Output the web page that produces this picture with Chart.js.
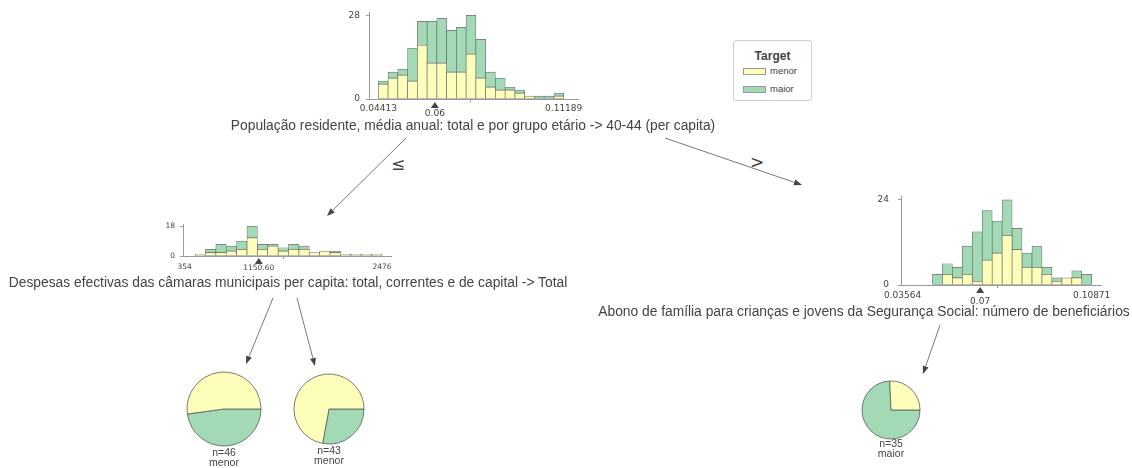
<!DOCTYPE html>
<html>
<head>
  <meta charset="utf-8">
  <title>Árvore de decisão</title>
  <script src="https://cdn.jsdelivr.net/npm/chart.js"></script>
  <style>
    body { margin: 0; width: 1132px; height: 468px; overflow: hidden; position: relative; background: #fff;
           font-family: "Liberation Sans", Arial, sans-serif; color: #444443; }
    canvas { position: absolute; }
    .feat { position: absolute; white-space: nowrap; font-size: 13.8px; line-height: 16px; transform: translateX(-50%); }
    .leaf { position: absolute; white-space: nowrap; font-size: 10.5px; line-height: 11px; transform: translateX(-50%); }
    .edge { position: absolute; font-family: "DejaVu Sans", sans-serif; font-size: 17px; line-height: 18px; transform: translate(-50%, -50%); }
    #legend { position: absolute; left: 733px; top: 40px; width: 77px; height: 59px; border: 1px solid #cfcfcf; border-radius: 3px; }
    #legend .title { position: absolute; left: 0; width: 77px; top: 8px; text-align: center; font-weight: bold; font-size: 12px; line-height: 14px; }
    #legend .sw { position: absolute; left: 9px; width: 23px; height: 7px; border: 1px solid #9a9a9a; box-sizing: border-box; }
    #legend .lbl { position: absolute; left: 36px; font-size: 9.5px; line-height: 12px; }
    #edges { position: absolute; left: 0; top: 0; }
  </style>
</head>
<body>
  <canvas id="rootHist" width="264" height="120" style="left:334px;top:1px"></canvas>
  <canvas id="leftHist" width="258" height="62" style="left:153px;top:214px"></canvas>
  <canvas id="rightHist" width="255" height="125" style="left:871px;top:182px"></canvas>

  <canvas id="leafA" width="76" height="76" style="left:186px;top:371px"></canvas>
  <canvas id="leafB" width="72" height="72" style="left:293px;top:373px"></canvas>
  <canvas id="leafC" width="60" height="60" style="left:861px;top:380px"></canvas>

  <div class="feat" id="rootLabel" style="left:473px;top:118px"></div>
  <div class="feat" id="leftLabel" style="left:288px;top:275px"></div>
  <div class="feat" id="rightLabel" style="left:864px;top:304px"></div>

  <div class="edge" id="edgeLe" style="left:398px;top:164px"></div>
  <div class="edge" id="edgeGt" style="left:757px;top:162px"></div>

  <div class="leaf" id="leafA_n" style="left:224px;top:447px"></div>
  <div class="leaf" id="leafA_c" style="left:224px;top:457px"></div>
  <div class="leaf" id="leafB_n" style="left:329px;top:445px"></div>
  <div class="leaf" id="leafB_c" style="left:329px;top:455px"></div>
  <div class="leaf" id="leafC_n" style="left:891px;top:438px"></div>
  <div class="leaf" id="leafC_c" style="left:891px;top:448px"></div>

  <div id="legend"></div>
  <svg id="edges" width="1132" height="468"></svg>

  <script>
    var classNames = ['menor', 'maior'];
    var classColors = ['#FEFEBB', '#a1dab4'];
    var edgeLabels = ['≤', '>'];

    // raiz: população residente 40-44 (per capita)
    var rootFeature = 'População residente, média anual: total e por grupo etário -> 40-44 (per capita)';
    var rootRange = [0.04413, 0.11189];
    var rootSplit = 0.0648;
    var rootSplitText = '0.06';
    var rootYTicks = [0, 28];
    var rootMenor = [5, 7, 8, 6, 18, 12, 12, 9, 9, 15, 7, 4, 3, 3, 2, 1, 0, 0, 1];
    var rootMaior = [1, 2, 2, 11, 8, 14, 15, 14, 15, 13, 13, 5, 4, 1, 1, 0, 1, 1, 1];

    // ramo <= : despesas das câmaras
    var leftFeature = 'Despesas efectivas das câmaras municipais per capita: total, correntes e de capital -> Total';
    var leftRange = [354, 2476];
    var leftSplit = 1150.60;
    var leftSplitText = '1150.60';
    var leftYTicks = [0, 18];
    var leftMenor = [0, 1, 2, 2, 3, 4, 11, 4, 6, 3, 4, 4, 2, 3, 2, 1, 1, 1, 1];
    var leftMaior = [0, 0, 2, 5, 3, 5, 7, 3, 1, 2, 3, 2, 0, 0, 1, 0, 0, 0, 0];

    // ramo > : abono de família
    var rightFeature = 'Abono de família para crianças e jovens da Segurança Social: número de beneficiários';
    var rightRange = [0.03564, 0.10871];
    var rightSplit = 0.0656;
    var rightSplitText = '0.07';
    var rightYTicks = [0, 24];
    var rightMenor = [0, 0, 0, 0, 3, 2, 3, 1, 7, 9, 14, 10, 5, 5, 3, 1, 2, 2, 0];
    var rightMaior = [0, 0, 0, 3, 3, 3, 8, 14, 14, 9, 10, 6, 4, 6, 2, 1, 0, 2, 3];

    // folhas, contagens [menor, maior]
    var leafIds = ['leafA', 'leafB', 'leafC'];
    var leafCounts = [[24, 22], [31, 12], [9, 26]];

    var ink = '#444443';
    var axisColor = '#9a9a9a';
    Chart.defaults.font.family = '"DejaVu Sans", sans-serif';
    Chart.defaults.color = ink;

    // triangulo e valor do corte por baixo do eixo x
    var splitMarker = {
      id: 'splitMarker',
      afterDraw: function (chart, args, opts) {
        var ctx = chart.ctx;
        var x = chart.scales.x.getPixelForValue(opts.value);
        var y = chart.chartArea.bottom;
        ctx.save();
        ctx.fillStyle = ink;
        ctx.beginPath();
        ctx.moveTo(x, y + opts.gap);
        ctx.lineTo(x - 4, y + opts.gap + 6);
        ctx.lineTo(x + 4, y + opts.gap + 6);
        ctx.closePath();
        ctx.fill();
        ctx.font = opts.size + 'px "DejaVu Sans"';
        ctx.textAlign = 'center';
        ctx.textBaseline = 'top';
        ctx.fillText(opts.text, x, y + opts.textOffset);
        ctx.restore();
      }
    };

    function drawHistogram(id, range, menor, maior, yTicks, split, splitText, lay) {
      var step = (range[1] - range[0]) / menor.length;
      function points(counts) {
        return counts.map(function (c, i) { return { x: range[0] + (i + 0.5) * step, y: c }; });
      }
      var sets = [menor, maior].map(function (counts, k) {
        return {
          label: classNames[k],
          data: points(counts),
          stack: 'h',
          backgroundColor: classColors[k],
          borderColor: '#6f6f6f',
          borderWidth: 0.7,
          borderSkipped: false,
          barPercentage: 1,
          categoryPercentage: 1
        };
      });
      var tickFont = { size: lay.font };
      return new Chart(document.getElementById(id), {
        type: 'bar',
        data: { datasets: sets },
        plugins: [splitMarker],
        options: {
          responsive: false,
          animation: false,
          layout: { padding: { left: 0, right: lay.right, top: lay.top, bottom: 0 } },
          plugins: {
            legend: { display: false },
            tooltip: { enabled: false },
            splitMarker: { value: split, text: splitText, size: lay.font, gap: lay.markGap, textOffset: lay.markText }
          },
          scales: {
            x: {
              type: 'linear', min: lay.xMin, max: lay.xMax, offset: false,
              grid: { drawOnChartArea: false, drawTicks: true, tickLength: 3, color: axisColor },
              border: { display: true, color: axisColor, width: 1 },
              afterBuildTicks: function (s) { s.ticks = range.map(function (v) { return { value: v }; }); },
              ticks: { autoSkip: false, maxRotation: 0, padding: lay.xPad, font: tickFont, color: ink,
                       callback: function (v) { return String(v); } },
              afterFit: function (s) { s.height = lay.xHeight; }
            },
            y: {
              stacked: true, min: 0, max: lay.yMax,
              grid: { drawOnChartArea: false, drawTicks: true, tickLength: 3, color: axisColor },
              border: { display: true, color: axisColor, width: 1 },
              afterBuildTicks: function (s) { s.ticks = yTicks.map(function (v) { return { value: v }; }); },
              ticks: { padding: lay.yPad, font: tickFont, color: ink, callback: function (v) { return String(v); } },
              afterFit: function (s) { s.width = lay.yWidth; }
            }
          }
        }
      });
    }

    drawHistogram('rootHist', rootRange, rootMenor, rootMaior, rootYTicks, rootSplit, rootSplitText,
      { xMin: 0.04073, xMax: 0.11712, yMax: 29, yWidth: 35, xHeight: 22, top: 10, right: 20,
        font: 9, xPad: 1, yPad: 6, markGap: 3, markText: 10 });
    drawHistogram('leftHist', leftRange, leftMenor, leftMaior, leftYTicks, leftSplit, leftSplitText,
      { xMin: 336, xMax: 2573, yMax: 19, yWidth: 30, xHeight: 20, top: 10.5, right: 20,
        font: 7.5, xPad: 4, yPad: 5, markGap: 2, markText: 8.5 });
    drawHistogram('rightHist', rightRange, rightMenor, rightMaior, rightYTicks, rightSplit, rightSplitText,
      { xMin: 0.03502, xMax: 0.1123, yMax: 25, yWidth: 30, xHeight: 22, top: 10.3, right: 25,
        font: 9, xPad: 2, yPad: 9, markGap: 2, markText: 12.5 });

    // folhas: fatia maior primeiro, a partir das 3 horas
    leafIds.forEach(function (id, i) {
      var counts = leafCounts[i];
      var canvas = document.getElementById(id);
      new Chart(canvas, {
        type: 'pie',
        data: {
          labels: [classNames[1], classNames[0]],
          datasets: [{
            data: [counts[1], counts[0]],
            backgroundColor: [classColors[1], classColors[0]],
            borderColor: '#5a5a5a',
            borderWidth: 0.8
          }]
        },
        options: {
          responsive: false,
          animation: false,
          rotation: 90,
          radius: canvas.width / 2 - 1,
          plugins: { legend: { display: false }, tooltip: { enabled: false } }
        }
      });
      var n = counts[0] + counts[1];
      document.getElementById(id + '_n').textContent = 'n=' + n;
      document.getElementById(id + '_c').textContent = counts[0] >= counts[1] ? classNames[0] : classNames[1];
    });

    document.getElementById('rootLabel').textContent = rootFeature;
    document.getElementById('leftLabel').textContent = leftFeature;
    document.getElementById('rightLabel').textContent = rightFeature;
    document.getElementById('edgeLe').textContent = edgeLabels[0];
    document.getElementById('edgeGt').textContent = edgeLabels[1];

    // legenda
    var legend = document.getElementById('legend');
    var html = '<div class="title">Target</div>';
    classNames.forEach(function (name, k) {
      var top = 27 + k * 18;
      html += '<div class="sw" style="top:' + top + 'px;background:' + classColors[k] + '"></div>' +
              '<div class="lbl" style="top:' + (top - 3) + 'px">' + name + '</div>';
    });
    legend.innerHTML = html;

    // setas entre os nós
    var arrows = [
      [406, 138, 327, 216],
      [665, 138, 802, 185],
      [273, 298, 246, 364],
      [297, 298, 315, 366],
      [940, 325, 923, 374]
    ];
    var svg = document.getElementById('edges');
    var out = '';
    arrows.forEach(function (a) {
      var dx = a[2] - a[0], dy = a[3] - a[1];
      var len = Math.sqrt(dx * dx + dy * dy);
      var ux = dx / len, uy = dy / len;
      var bx = a[2] - ux * 8, by = a[3] - uy * 8;
      out += '<line x1="' + a[0] + '" y1="' + a[1] + '" x2="' + bx + '" y2="' + by +
             '" stroke="#555" stroke-width="0.8"/>';
      out += '<polygon points="' + a[2] + ',' + a[3] + ' ' + (bx - uy * 3) + ',' + (by + ux * 3) + ' ' +
             (bx + uy * 3) + ',' + (by - ux * 3) + '" fill="#444443"/>';
    });
    svg.innerHTML = out;
  </script>
</body>
</html>
